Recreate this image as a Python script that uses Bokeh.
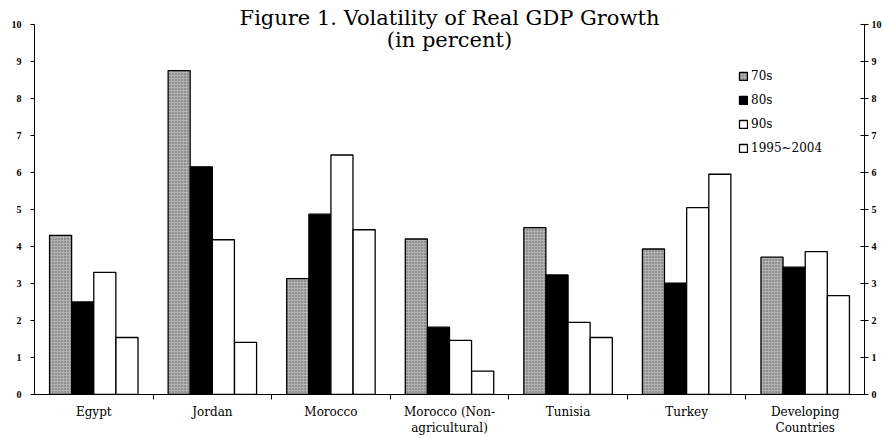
import numpy as np
from bokeh.plotting import figure
from bokeh.models import Range1d, LinearAxis, FixedTicker, Label, Legend, LegendItem, ColumnDataSource
from bokeh.embed import file_html
from bokeh.resources import INLINE

categories = ["Egypt", "Jordan", "Morocco", "Morocco (Non-\nagricultural)",
              "Tunisia", "Turkey", "Developing\nCountries"]
series = ["70s", "80s", "90s", "1995~2004"]
v70 = [4.30, 8.75, 3.13, 4.20, 4.51, 3.93, 3.71]
v80 = [2.50, 6.15, 4.87, 1.82, 3.23, 3.01, 3.44]
v90 = [3.30, 4.18, 6.47, 1.46, 1.95, 5.05, 3.86]
v95 = [1.54, 1.41, 4.45, 0.63, 1.54, 5.95, 2.67]
y_ticks = list(range(0, 11))
title_line1 = "Figure 1. Volatility of Real GDP Growth"
title_line2 = "(in percent)"

values = [v70, v80, v90, v95]
n = len(categories)
centers = [i + 0.5 for i in range(n)]
bounds = [float(i) for i in range(1, n)]

p = figure(width=884, height=438, output_backend="svg", toolbar_location=None,
           x_range=Range1d(0, n), y_range=Range1d(0, 10.4),
           x_axis_type=None, y_axis_type=None,
           min_border_left=34, min_border_top=9, min_border_right=19, min_border_bottom=43)
p.outline_line_color = None
p.xgrid.visible = False
p.ygrid.visible = False
p.background_fill_color = "white"

offsets = [-0.28, -0.093, 0.093, 0.28]
width = 0.186
styles = [
    dict(fill_color="#b2b2b2", hatch_pattern="dot", hatch_color="#5a5a5a", hatch_scale=3, hatch_weight=1),
    dict(fill_color="black"),
    dict(fill_color="white"),
    dict(fill_color="white"),
]
renderers = []
for s, vals, off, st in zip(series, values, offsets, styles):
    src = ColumnDataSource(dict(x=[c + off for c in centers], top=vals))
    r = p.vbar(x="x", top="top", width=width, source=src, line_color="black", line_width=1.3, **st)
    renderers.append(r)

serif = "Liberation Serif"
wide_serif = "DejaVu Serif"
tick_font = dict(major_label_text_font=serif, major_label_text_font_size="10px",
                 major_label_text_font_style="bold", major_label_text_color="black")

left = LinearAxis(ticker=FixedTicker(ticks=y_ticks), bounds=(0, 10),
                  major_tick_out=4, major_tick_in=0,
                  minor_tick_out=0, minor_tick_in=0, major_label_standoff=9,
                  axis_line_color="black", axis_line_width=1, **tick_font)
p.add_layout(left, "left")
right = LinearAxis(ticker=FixedTicker(ticks=y_ticks), bounds=(0, 10),
                   major_tick_out=4, major_tick_in=4,
                   minor_tick_out=0, minor_tick_in=0, major_label_standoff=3,
                   axis_line_color="black", axis_line_width=1, **tick_font)
p.add_layout(right, "right")

bottom = LinearAxis(ticker=FixedTicker(ticks=centers, minor_ticks=bounds),
                    major_tick_out=0, major_tick_in=0, minor_tick_out=5, minor_tick_in=0,
                    major_label_standoff=5,
                    major_label_overrides={c: name for c, name in zip(centers, categories)},
                    major_label_text_font=wide_serif, major_label_text_font_size="12px",
                    major_label_text_color="black",
                    axis_line_color="black", axis_line_width=1)
p.add_layout(bottom, "below")

p.add_layout(Label(x=n / 2, y=10.16, text=title_line1, text_align="center", text_baseline="middle",
                   text_font=wide_serif, text_font_size="21px", text_color="black"))
p.add_layout(Label(x=n / 2, y=9.57, text=title_line2, text_align="center", text_baseline="middle",
                   text_font=wide_serif, text_font_size="21px", text_color="black"))

legend = Legend(items=[LegendItem(label=s, renderers=[r]) for s, r in zip(series, renderers)],
                location=(704, 236), glyph_width=10, glyph_height=10, label_height=20,
                spacing=4, padding=0, margin=0, label_standoff=3,
                label_text_font=wide_serif, label_text_font_size="12px", label_text_color="black",
                border_line_color=None, background_fill_alpha=0)
p.add_layout(legend)

open("out.html", "w").write(file_html(p, INLINE))
